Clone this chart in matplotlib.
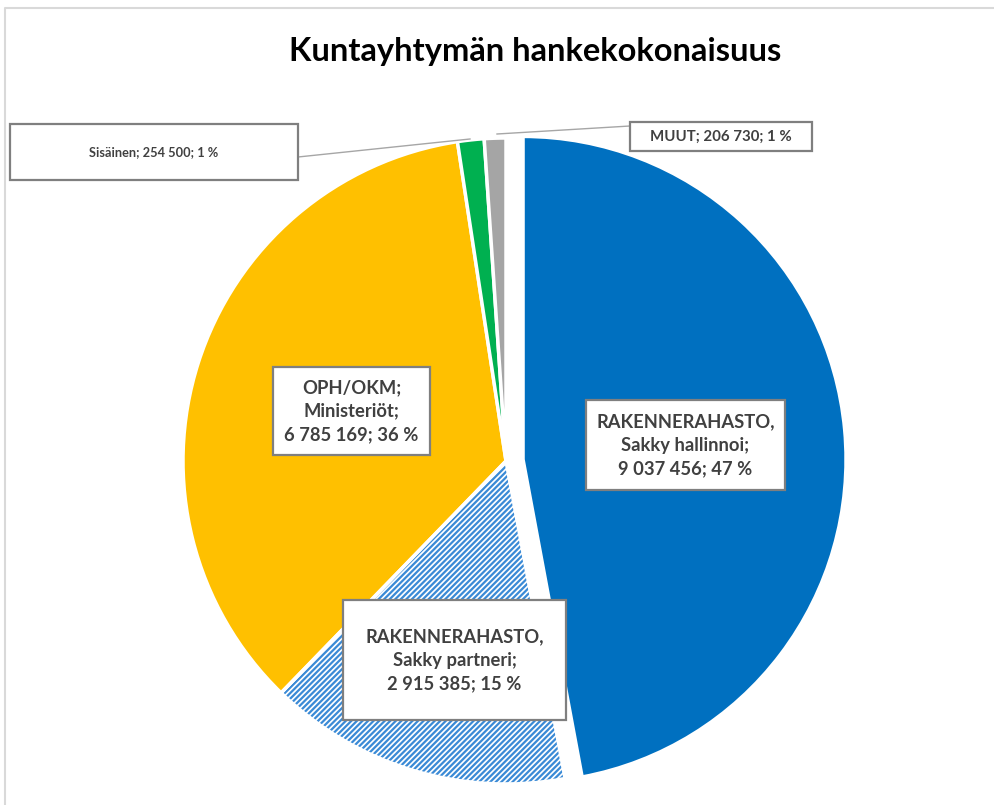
import matplotlib.pyplot as plt
from matplotlib.patches import Rectangle, Wedge

plt.rcParams['font.family'] = ['Lato', 'DejaVu Sans']
plt.rcParams['hatch.linewidth'] = 1.6

categories = ['RAKENNERAHASTO,\nSakky hallinnoi', 'RAKENNERAHASTO,\nSakky partneri',
              'OPH/OKM;\nMinisteriöt', 'Sisäinen', 'MUUT']
values = [9037456, 2915385, 6785169, 254500, 206730]
percents = [47, 15, 36, 1, 1]
colors = ['#0070c0', '#ffffff', '#ffc000', '#00b050', '#a5a5a5']

W, H = 994, 805
R = 323

fig = plt.figure(figsize=(W / 100, H / 100), dpi=100)
ax = fig.add_axes([0, 0, 1, 1])

# pie explode offsets are in data units here (radius is in pixels)
wedges, _ = ax.pie(values, colors=colors, startangle=90, counterclock=False,
                   explode=[0.053 * R, 0, 0, 0, 0], center=(506, H - 461), radius=R,
                   frame=True, wedgeprops=dict(edgecolor='white', linewidth=2.5))

# hatched slice
w = wedges[1]
w.set_hatch('//////')
w.set_edgecolor('#3a8ad6')
w.set_linewidth(0)
ax.add_patch(Wedge(w.center, w.r, w.theta1, w.theta2, fill=False,
                   edgecolor='white', linewidth=2.5))

ax.set_xlim(0, W)
ax.set_ylim(0, H)
ax.set_aspect('auto')
ax.axis('off')


def fmt(v):
    return f'{v:,}'.replace(',', ' ')


# label boxes: (left, top, right, bottom) in pixels, fontsize
boxes = [(586, 400, 785, 490, 13.2), (343, 600, 566, 720, 13.2),
         (273, 367, 430, 455, 13.2), (10, 124, 298, 180, 9.2),
         (630, 122, 812, 151, 10.8)]

for i, (l, t, r, b, fs) in enumerate(boxes):
    ax.add_patch(Rectangle((l, H - b), r - l, b - t, facecolor='white',
                           edgecolor='#7f7f7f', linewidth=1.6, zorder=3))
    sep = '; ' if i >= 3 else ';\n'
    txt = f'{categories[i]}{sep}{fmt(values[i])}; {percents[i]} %'
    ax.text((l + r) / 2, H - (t + b) / 2, txt, ha='center', va='center',
            fontsize=fs, fontweight='bold', color='#404040', linespacing=1.45, zorder=4)

# leader lines
ax.plot([298, 470], [H - 157, H - 139], color='#a6a6a6', lw=1, zorder=2)
ax.plot([630, 497], [H - 126, H - 134], color='#a6a6a6', lw=1, zorder=2)

# chart border
ax.plot([5, 5, W], [0, H - 8, H - 8], color='#d9d9d9', lw=1.5)

fig.text(535 / W, 1 - 52 / H, 'Kuntayhtymän hankekokonaisuus', ha='center', va='center',
         fontsize=23.5, fontweight='bold', color='black')

fig.savefig('out.png', dpi=100)
